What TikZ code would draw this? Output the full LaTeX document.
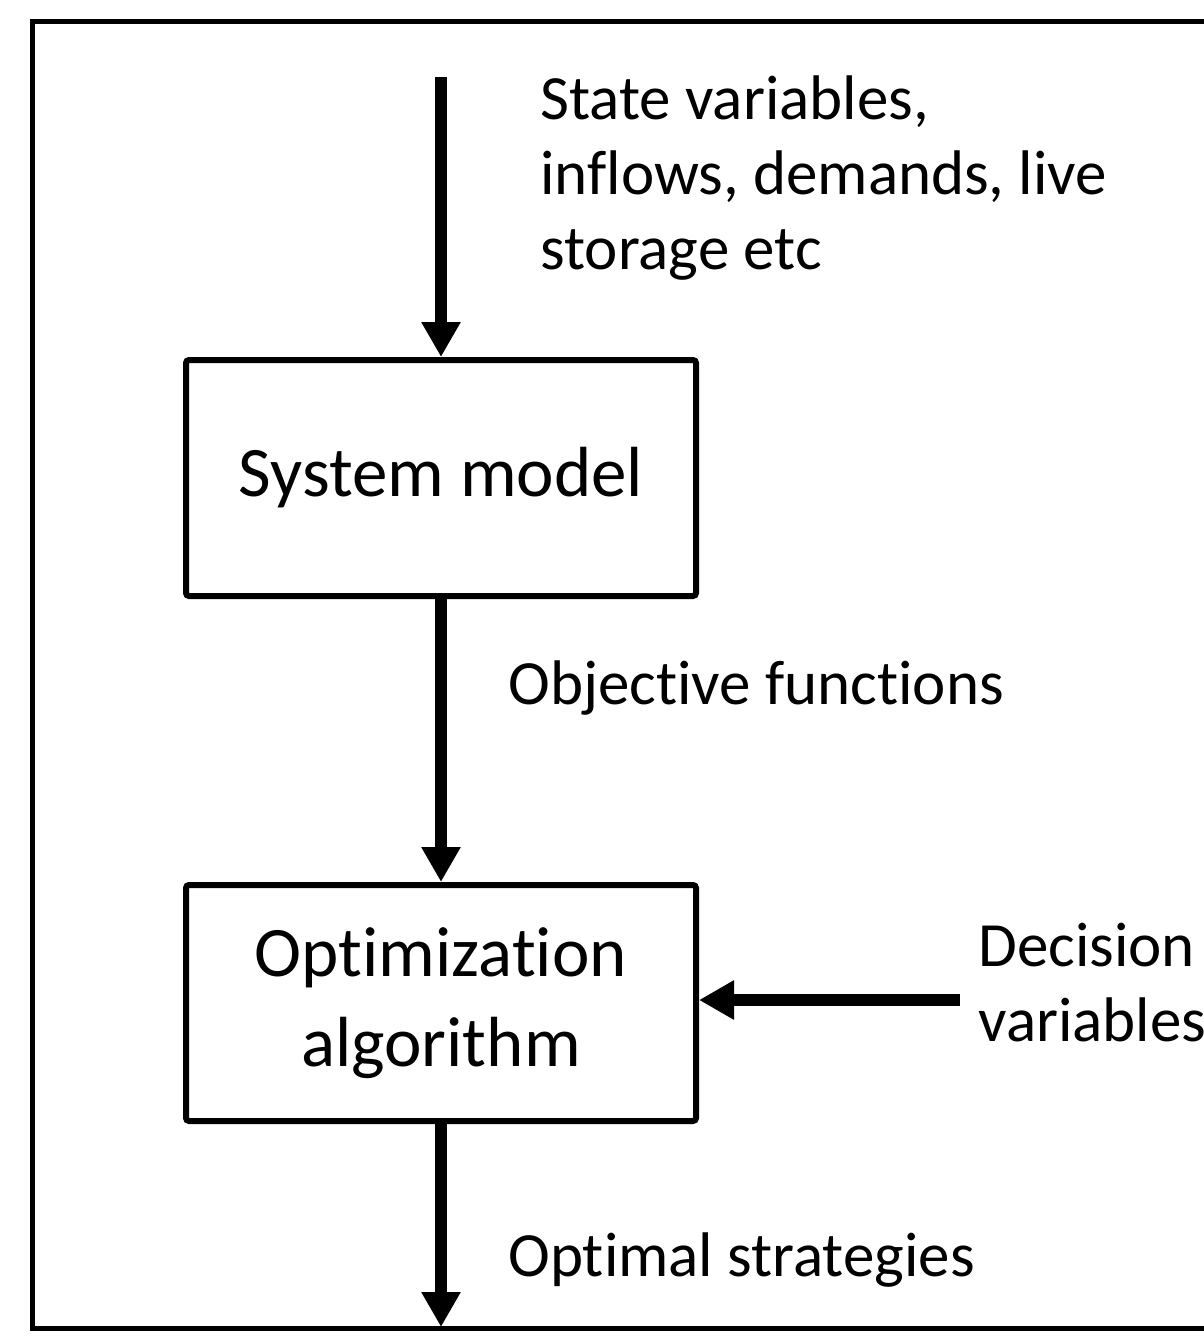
\documentclass[tikz,border=0pt]{standalone}
\usepackage{fontspec}
\setmainfont{Carlito}[Ligatures=NoCommon]
\usetikzlibrary{arrows.meta}

\begin{document}
\begin{tikzpicture}[x=0.5pt,y=-0.5pt,
    block/.style={draw,line width=3pt,rounded corners=1.5pt,minimum width=255pt,
      minimum height=118pt,inner sep=0pt,align=center,font=\fontsize{35.5}{45}\selectfont},
    note/.style={anchor=west,inner sep=0pt,align=left,font=\fontsize{31.5}{37.5}\selectfont},
    flow/.style={line width=6pt,-{Triangle[width=18.5pt,length=17.5pt]}}]
  \useasboundingbox (0,0) rectangle (1204,1340);
  \clip (0,0) rectangle (1204,1340);
  \draw[line width=2.5pt] (32,21) rectangle (1300,1328); % frame runs past the right edge

  \node[block] (sys) at (441,478) {System model};
  \node[block] (opt) at (441,1003) {Optimization\\algorithm};
  \coordinate (in) at (441,77);
  \coordinate (out) at (441,1327);
  \coordinate (dec) at (960,1000);

  \node[note] (state) at (540,178) {State variables,\\inflows, demands, live\\storage etc};
  \node[note] (obj) at (508,688) {Objective functions};
  \node[note] (decv) at (978,983) {Decision\\variables};
  \node[note] (strat) at (508,1260) {Optimal strategies};

  \draw[flow] (in) -- (sys);
  \draw[flow] (sys) -- (opt);
  \draw[flow] (dec) -- (dec -| opt.east);
  \draw[flow] (opt) -- (out);
\end{tikzpicture}
\end{document}
